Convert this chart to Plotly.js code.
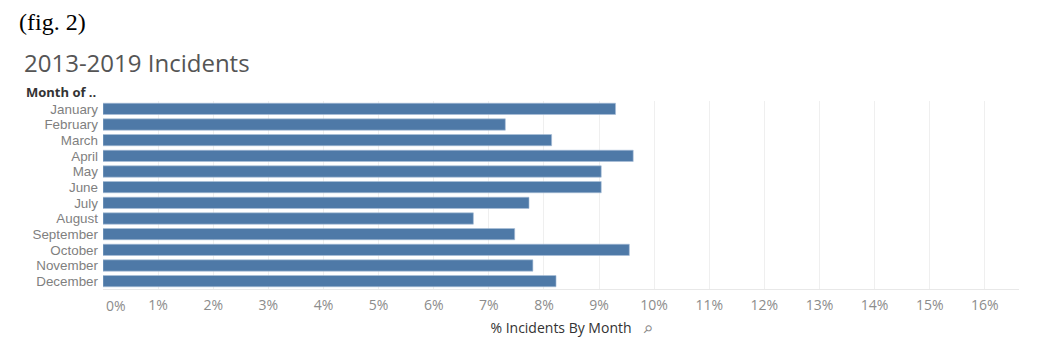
<!DOCTYPE html>
<html>
<head>
<meta charset="utf-8">
<script src="https://cdn.plot.ly/plotly-3.0.1.min.js"></script>
<style>
html,body{margin:0;padding:0;background:#fff;}
#chart{width:1053px;height:353px;}
</style>
</head>
<body>
<div id="chart"></div>
<script>
const months = ["January","February","March","April","May","June","July","August","September","October","November","December"];
const pctIncidents = [9.30, 7.30, 8.14, 9.62, 9.04, 9.04, 7.73, 6.72, 7.47, 9.55, 7.80, 8.22];
const tickValues = [1,2,3,4,5,6,7,8,9,10,11,12,13,14,15,16];
const tickLabels = tickValues.map(v => v + "%");

const font = "Open Sans, Lato, sans-serif";
const PW = 916, PH = 188, ML = 103, MT = 101;

const trace = {
  type: "bar",
  orientation: "h",
  y: months,
  x: pctIncidents,
  marker: {color: "#4e79a7", line: {color: "#a9bfd8", width: 0.6}},
  hoverinfo: "x+y"
};

const layout = {
  width: 1053, height: 353,
  margin: {l: ML, r: 34, t: MT, b: 64},
  paper_bgcolor: "#fff", plot_bgcolor: "#fff",
  bargap: 0.28,
  showlegend: false,
  font: {family: font, size: 14, color: "#888"},
  xaxis: {
    range: [0, 16.62],
    tickmode: "array",
    tickvals: tickValues,
    ticktext: tickLabels,
    showgrid: true, gridcolor: "#efefef", gridwidth: 1,
    zeroline: false,
    showline: true, linecolor: "#e8e8e8", linewidth: 1,
    ticks: "", ticklabelstandoff: 3,
    tickfont: {family: font, size: 14, color: "#8c8c8c"},
    title: {text: "% Incidents By Month", font: {family: font, size: 14, color: "#333"}, standoff: 10},
    fixedrange: true
  },
  yaxis: {
    autorange: "reversed",
    tickmode: "array",
    tickvals: months,
    ticktext: months,
    showgrid: false, zeroline: false, showline: false,
    ticks: "", ticklabelstandoff: 4,
    tickfont: {family: "Liberation Sans, Arial, sans-serif", size: 13.4, color: "#7f7f7f"},
    fixedrange: true
  },
  annotations: [
    {text: "(fig. 2)", xref: "paper", yref: "paper", x: -ML/PW, y: 1 + (MT-22)/PH, xanchor: "left", yanchor: "middle",
     xshift: 17, showarrow: false, font: {family: "Liberation Serif, Times New Roman, serif", size: 24, color: "#000"}},
    {text: "2013-2019 Incidents", xref: "paper", yref: "paper", x: -ML/PW, y: 1 + (MT-62)/PH, xanchor: "left", yanchor: "middle",
     xshift: 22, showarrow: false, font: {family: font, size: 24, color: "#555"}},
    {text: "<b>Month of ..</b>", xref: "paper", yref: "paper", x: -ML/PW, y: 1 + (MT-92)/PH, xanchor: "left", yanchor: "middle",
     xshift: 24, showarrow: false, font: {family: font, size: 13, color: "#333"}},
    {text: "0%", xref: "x", yref: "paper", x: 0, y: 0, xanchor: "left", yanchor: "top",
     xshift: 1, yshift: -5, showarrow: false, font: {family: font, size: 14, color: "#8c8c8c"}},
    {text: "⚲", xref: "paper", yref: "paper", x: (648-ML)/PW, y: -(329-MT-PH)/PH, xanchor: "center", yanchor: "middle",
     textangle: 45, showarrow: false, font: {family: "DejaVu Sans, sans-serif", size: 11, color: "#888"}}
  ]
};

Plotly.newPlot("chart", [trace], layout, {displayModeBar: false, staticPlot: true});
</script>
</body>
</html>
